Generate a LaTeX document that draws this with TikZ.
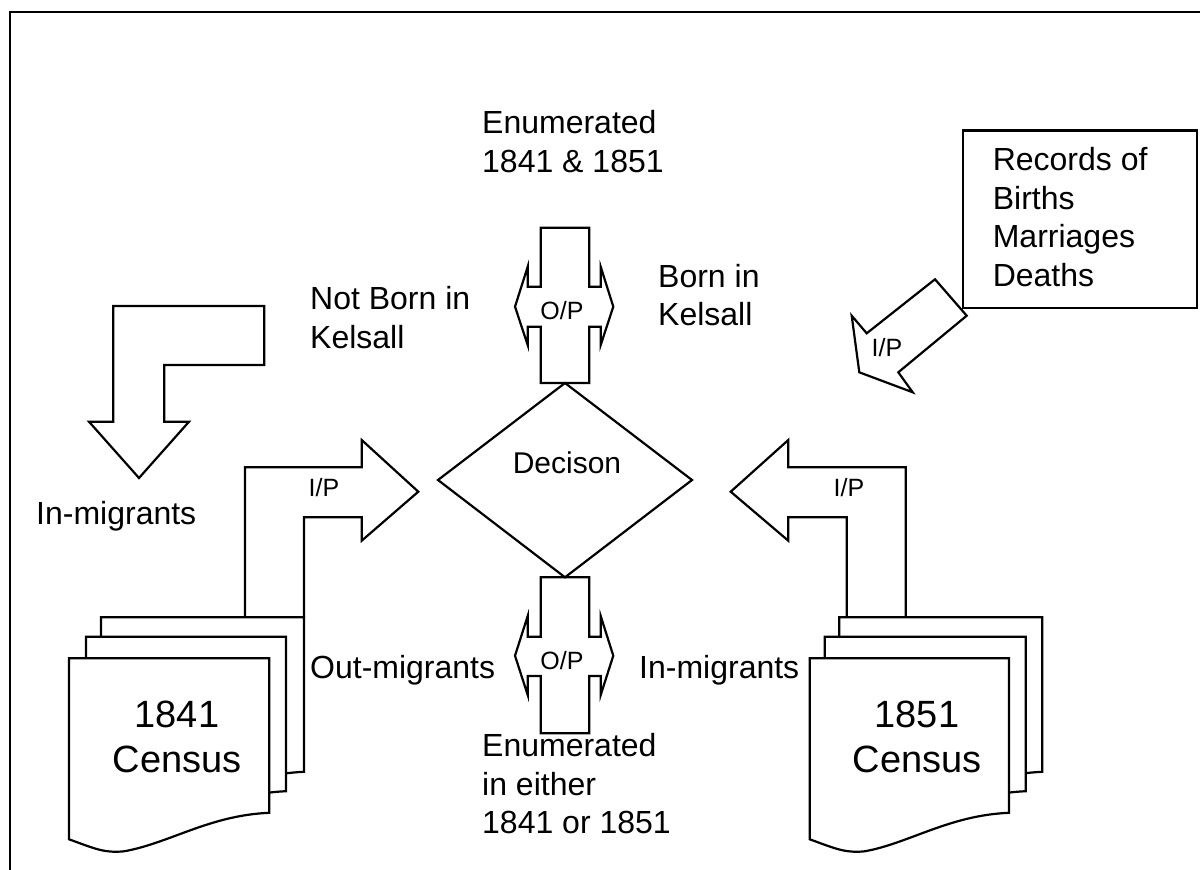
\documentclass[tikz,border=0pt]{standalone}
\usepackage{fontspec}
\setmainfont{Liberation Sans}
\begin{document}
\begin{tikzpicture}[x=1pt,y=-1pt,
  shp/.style={draw=black,line width=2.2pt,line join=miter},
  txt/.style={inner sep=0pt,align=left,font=\fontsize{32}{38.5}\selectfont},
  small/.style={inner sep=0pt,font=\fontsize{25}{30}\selectfont},
  mid/.style={inner sep=0pt,font=\fontsize{30}{35}\selectfont},
  big/.style={inner sep=0pt,align=center,font=\fontsize{38}{45.5}\selectfont}]
\newcommand\censuspage[3]{%
  \begin{scope}[shift={(#1,#2)}]
    \draw[shp,fill=white] (0,0) -- (#3,0) -- (#3,154.5)
      .. controls (#3-60,157) and (#3-100,185) .. (55,193)
      .. controls (35,195) and (25,190) .. (0,181) -- cycle;
  \end{scope}}
\useasboundingbox (0,0) rectangle (1200,870);
\fill[white] (0,0) rectangle (1200,870);
% outer frame
\draw[line width=2.8pt] (10,12) rectangle (1220,890);

% top O/P cross
\draw[shp] (540.7,227.7) -- (589.3,227.7) -- (589.3,286.7) -- (600.7,286.7) -- (600.7,266.7)
  -- (613.3,306.7) -- (600.7,345) -- (600.7,326.7) -- (589.3,326.7) -- (589.3,383)
  -- (540.7,383) -- (540.7,326.7) -- (527.7,326.7) -- (527.7,345) -- (515,306.7)
  -- (527.7,266.7) -- (527.7,286.7) -- (540.7,286.7) -- cycle;
\node[small] (optop) at (562,311) {O/P};

% bottom O/P cross
\draw[shp] (540.7,577.3) -- (589.3,577.3) -- (589.3,636.7) -- (600.7,636.7) -- (600.7,616)
  -- (613.3,655.7) -- (600.7,695) -- (600.7,676) -- (589.3,676) -- (589.3,733.3)
  -- (540.7,733.3) -- (540.7,676) -- (527.7,676) -- (527.7,695) -- (515,655.7)
  -- (527.7,616) -- (527.7,636.7) -- (540.7,636.7) -- cycle;
\node[small] (opbot) at (562,661) {O/P};

% decision diamond
\draw[shp] (565,383) -- (692,480) -- (565,577.3) -- (438,480) -- cycle;
\node[mid] (dec) at (567,463) {Decison};

% left top bent arrow (in-migrants)
\draw[shp] (113.3,306) -- (264.3,306) -- (264.3,365) -- (164.3,365) -- (164.3,421.7)
  -- (189,421.7) -- (139,478) -- (89,421.7) -- (113.3,421.7) -- cycle;

% diagonal I/P arrow from records
\draw[shp] (935,279.3) -- (866.7,333.3) -- (851.7,315.7) -- (859.3,372.3)
  -- (912.7,392.3) -- (898.3,372.3) -- (966.7,315.7) -- cycle;
\node[small] (ipdiag) at (887,348) {I/P};

% records box
\draw[shp] (963,130.4) rectangle (1197,308.3);
\node[txt,anchor=west] (rec) at (992.6,217.3) {Records of\\Births\\Marriages\\Deaths};

% census stacks left
\censuspage{101}{617.3}{203}
\censuspage{86}{636.7}{200}
\censuspage{69}{658.3}{200.3}
\node[big] (c41) at (177,737) {1841\\Census};

% census stacks right
\censuspage{839.3}{617.3}{203}
\censuspage{824.7}{636.7}{201}
\censuspage{809.7}{658.3}{199.3}
\node[big] (c51) at (917,737) {1851\\Census};

% left I/P bent arrow
\draw[shp] (245,617.3) -- (245,467.3) -- (361.7,467.3) -- (361.7,440) -- (418.3,491.7)
  -- (361.7,540.7) -- (361.7,517.3) -- (304,517.3) -- (304,617.3);
\node[small] (ipl) at (324,488) {I/P};

% right I/P bent arrow
\draw[shp] (905.7,617.3) -- (905.7,467.3) -- (788.3,467.3) -- (788.3,440) -- (730.7,491.7)
  -- (788.3,540.7) -- (788.3,517.3) -- (846.7,517.3) -- (846.7,617.3);
\node[small] (ipr) at (849,488) {I/P};

% labels
\node[txt,anchor=west] (enumtop) at (482,141.5) {Enumerated\\1841 \& 1851};
\node[txt,anchor=west] (notborn) at (310,317.7) {Not Born in\\Kelsall};
\node[txt,anchor=west] (born) at (658,295) {Born in\\Kelsall};
\node[txt,anchor=base west] (inmigl) at (36,524) {In-migrants};
\node[txt,anchor=base west] (outmig) at (310,678) {Out-migrants};
\node[txt,anchor=base west] (inmigr) at (639,678) {In-migrants};
\node[txt,anchor=west] (enumbot) at (482,784) {Enumerated\\in either\\1841 or 1851};
\end{tikzpicture}
\end{document}
